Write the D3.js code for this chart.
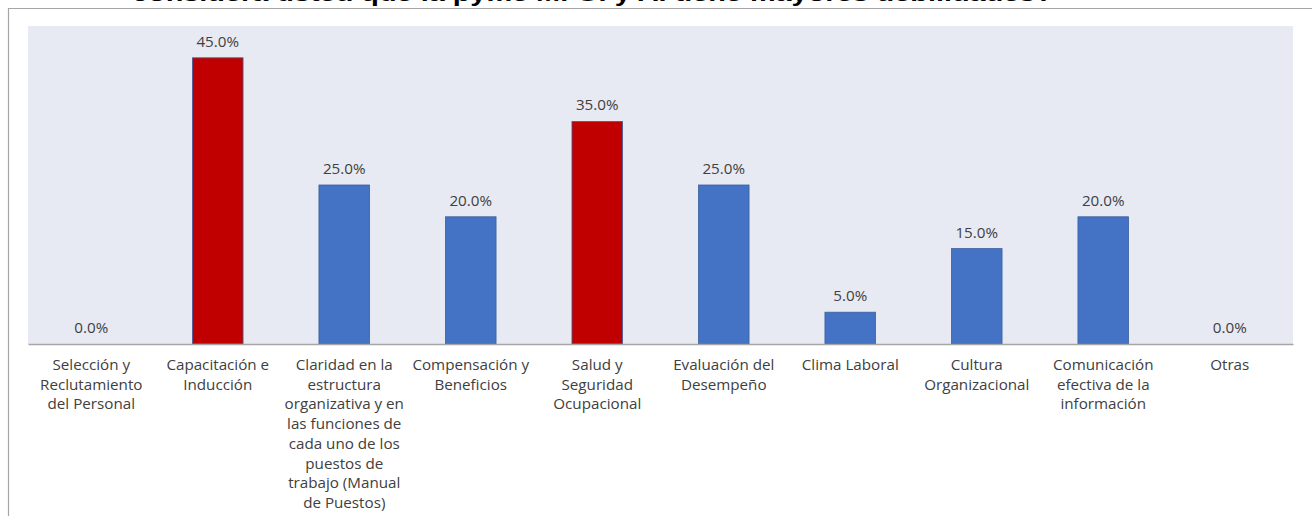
<!DOCTYPE html>
<html>
<head>
<meta charset="utf-8">
<script src="https://cdn.jsdelivr.net/npm/d3@7"></script>
<style>
  html, body { margin: 0; padding: 0; background: #ffffff; }
  svg { display: block; }
</style>
</head>
<body>
<svg id="chart" width="1312" height="516"></svg>
<script>
// Categories (wrapped into lines as shown under each bar)
const categoryLines = [
  ["Selección y", "Reclutamiento", "del Personal"],
  ["Capacitación e", "Inducción"],
  ["Claridad en la", "estructura", "organizativa y en", "las funciones de", "cada uno de los", "puestos de", "trabajo (Manual", "de Puestos)"],
  ["Compensación y", "Beneficios"],
  ["Salud y", "Seguridad", "Ocupacional"],
  ["Evaluación del", "Desempeño"],
  ["Clima Laboral"],
  ["Cultura", "Organizacional"],
  ["Comunicación", "efectiva de la", "información"],
  ["Otras"]
];
const categories = categoryLines.map(l => l.join(" "));

// Share of responses per category (%)
const values = [0, 45, 25, 20, 35, 25, 5, 15, 20, 0];

// Categories shown in the highlight colour
const highlighted = ["Capacitación e Inducción", "Salud y Seguridad Ocupacional"];

const titleText = "considera usted que la pyme M. G. y A. tiene mayores debilidades?";

const svg = d3.select("#chart");
const W = 1312, H = 516;

// Frame lines
svg.append("line")
  .attr("x1", 8).attr("x2", W).attr("y1", 8.5).attr("y2", 8.5)
  .attr("stroke", "#a6a6a6").attr("stroke-width", 1.2);
svg.append("line")
  .attr("x1", 8.5).attr("x2", 8.5).attr("y1", 8).attr("y2", H)
  .attr("stroke", "#a6a6a6").attr("stroke-width", 1.2);

// Title (last line, partly above the page edge)
svg.append("text")
  .attr("x", 132).attr("y", 1)
  .attr("font-family", "Liberation Sans, Arial, sans-serif")
  .attr("font-weight", "bold")
  .attr("font-size", 22)
  .attr("fill", "#000")
  .attr("textLength", 921)
  .attr("lengthAdjust", "spacingAndGlyphs")
  .text(titleText);

// Plot area
const plot = { left: 28, right: 1293, top: 26, bottom: 344 };

const x = d3.scaleBand()
  .domain(categories)
  .range([plot.left, plot.right])
  .paddingInner(0.6)
  .paddingOuter(0.3);

const y = d3.scaleLinear()
  .domain([0, 50])
  .range([plot.bottom, plot.top]);

svg.append("rect")
  .attr("x", plot.left).attr("y", plot.top)
  .attr("width", plot.right - plot.left)
  .attr("height", plot.bottom - plot.top)
  .attr("fill", "#e8eaf3");

const data = categories.map((c, i) => ({ cat: c, lines: categoryLines[i], value: values[i] }));

// Bars
svg.append("g").selectAll("rect")
  .data(data)
  .join("rect")
  .attr("x", d => x(d.cat))
  .attr("width", x.bandwidth())
  .attr("y", d => y(d.value))
  .attr("height", d => y(0) - y(d.value))
  .attr("fill", d => highlighted.includes(d.cat) ? "#c00000" : "#4472c4")
  .attr("stroke", d => d.value > 0 ? "#3a5fa0" : "none")
  .attr("stroke-width", 0.8);

// Baseline axis
const xAxis = d3.axisBottom(x).tickSize(0).tickFormat("");
const axisG = svg.append("g")
  .attr("transform", `translate(0,${plot.bottom})`)
  .call(xAxis);
axisG.select(".domain").attr("stroke", "#a6a6a6").attr("stroke-width", 1.5);

const labelFont = "Open Sans, Noto Sans, sans-serif";
const labelSize = 15.2;

// Value labels
svg.append("g").selectAll("text")
  .data(data)
  .join("text")
  .attr("x", d => x(d.cat) + x.bandwidth() / 2)
  .attr("y", d => y(d.value) - 11)
  .attr("text-anchor", "middle")
  .attr("font-family", labelFont)
  .attr("font-size", labelSize)
  .attr("fill", "#404040")
  .text(d => d3.format(".1f")(d.value) + "%");

// Category labels
const catG = svg.append("g").selectAll("text")
  .data(data)
  .join("text")
  .attr("x", d => x(d.cat) + x.bandwidth() / 2)
  .attr("y", 370)
  .attr("text-anchor", "middle")
  .attr("font-family", labelFont)
  .attr("font-size", labelSize)
  .attr("fill", "#404040");

catG.selectAll("tspan")
  .data(d => d.lines)
  .join("tspan")
  .attr("x", function() { return d3.select(this.parentNode).attr("x"); })
  .attr("dy", (d, i) => i === 0 ? 0 : 19.7)
  .text(d => d);
</script>
</body>
</html>
